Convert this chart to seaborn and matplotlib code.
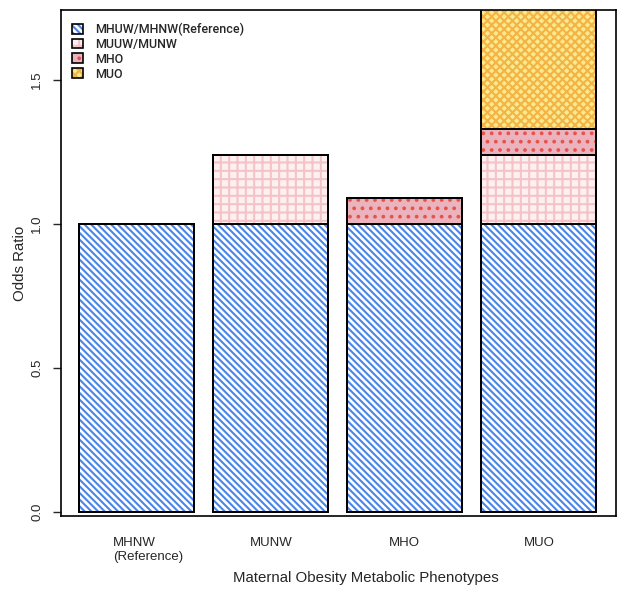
import numpy as np
import matplotlib
matplotlib.use('Agg')
import matplotlib.pyplot as plt
import matplotlib.transforms as mtransforms
from matplotlib.patches import Patch
import seaborn as sns

# Datos (odds ratio apilado por fenotipo)
categories = ['MHNW\n(Reference)', 'MUNW', 'MHO', 'MUO']
ref_or = [1.0, 1.0, 1.0, 1.0]
muuw_extra = [0.0, 0.24, 0.0, 0.24]
mho_extra = [0.0, 0.0, 0.09, 0.09]
muo_extra = [0.0, 0.0, 0.0, 0.45]

legend_labels = ['MHUW/MHNW(Reference)', 'MUUW/MUNW', 'MHO', 'MUO']
fill_colors = ['white', '#fdf0f1', '#ebb3bd', '#fae98e']
hatch_colors = ['#4a86e8', '#f4c3c8', '#e5534b', '#f4b445']
hatches = ['\\' * 5, '++', '..', 'xxxx']

sns.set_style('white')
plt.rcParams['font.family'] = ['Liberation Sans', 'DejaVu Sans']
plt.rcParams['hatch.linewidth'] = 1.5

layers = np.array([ref_or, muuw_extra, mho_extra, muo_extra])
cum = np.cumsum(layers, axis=0)

fig = plt.figure(figsize=(6.24, 5.97), dpi=100)
ax = fig.add_axes([61/624, 1 - 516/597, (616 - 61)/624, (516 - 10)/597])

bw = 0.858
# rellenos con trama, de arriba hacia abajo
for i in range(3, -1, -1):
    sns.barplot(x=categories, y=cum[i], order=categories, color=fill_colors[i],
                edgecolor=hatch_colors[i], hatch=hatches[i], linewidth=0,
                saturation=1, width=bw, errorbar=None, ax=ax)
# contornos negros
for i in range(4):
    sns.barplot(x=categories, y=cum[i], order=categories, fill=False, color='black',
                linewidth=1.4, width=bw, errorbar=None, ax=ax)

ax.set_xlim(-0.565, 3.575)
ax.set_ylim(-0.014, 1.743)
ax.set_yticks([0, 0.5, 1.0, 1.5])
ax.set_yticklabels(['0.0', '0.5', '1.0', '1.5'])
ax.set_xticks(range(4))
ax.set_xticklabels(categories, fontsize=9.5)
ax.tick_params(axis='x', length=0, pad=15)
ax.tick_params(axis='y', length=5.8, width=1, direction='out', pad=7,
               labelsize=9.5, labelrotation=90, left=True)
for lbl in ax.get_yticklabels():
    lbl.set_va('center')
first = ax.get_xticklabels()[0]
first.set_multialignment('left')
first.set_transform(first.get_transform() +
                    mtransforms.ScaledTranslation(11/100, 0, fig.dpi_scale_trans))

for sp in ax.spines.values():
    sp.set_visible(True)
    sp.set_color('black')
    sp.set_linewidth(1.2)

ax.set_xlabel('Maternal Obesity Metabolic Phenotypes', fontsize=10.8)
ax.xaxis.set_label_coords(0.55, -0.108)
ax.set_ylabel('Odds Ratio', fontsize=10.8)
ax.yaxis.set_label_coords(-0.062, 0.5)

handles = [(Patch(facecolor=fill_colors[i], edgecolor=hatch_colors[i], hatch=hatches[i], linewidth=0),
            Patch(facecolor='none', edgecolor='black', linewidth=1.2)) for i in range(4)]
ax.legend(handles, legend_labels, loc='upper left', bbox_to_anchor=(0.0198, 0.975),
          frameon=False, borderpad=0, borderaxespad=0, handlelength=0.85, handleheight=0.85,
          handletextpad=1.0, labelspacing=0.15,
          prop={'family': 'Roboto', 'size': 9.0, 'weight': 'medium'})

plt.savefig('out.png', dpi=100)
plt.close()
